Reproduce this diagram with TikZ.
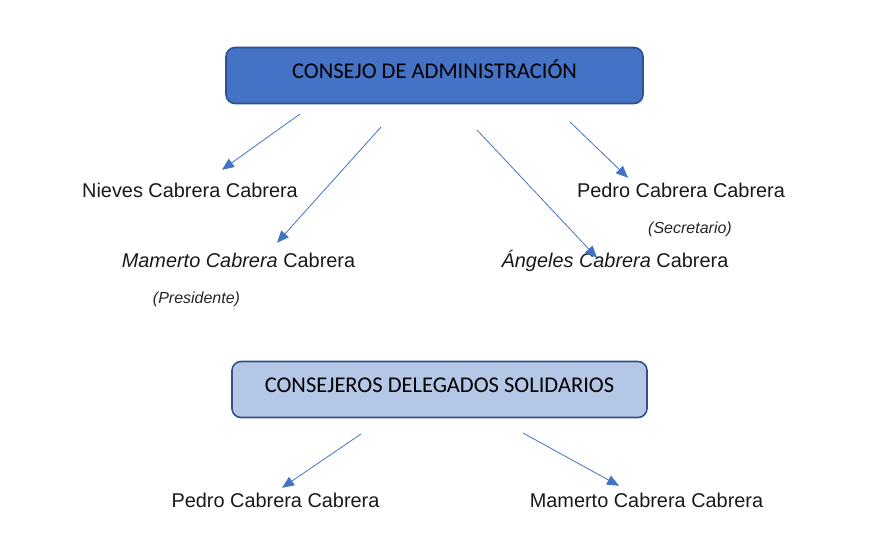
\documentclass[tikz,border=0pt]{standalone}
\usepackage{fontspec}
\setmainfont{Liberation Sans}
\newfontfamily\titlefont{Carlito}
\usetikzlibrary{positioning,arrows.meta}
\definecolor{boxblue}{HTML}{4472C4}
\definecolor{boxline}{HTML}{2F528F}
\definecolor{boxlight}{HTML}{B4C7E7}
\definecolor{linkblue}{HTML}{4472C4}

\begin{document}
\begin{tikzpicture}[x=1pt,y=-1pt,
  board/.style={draw=boxline, line width=1.6pt, rounded corners=9pt, minimum height=56pt, inner sep=0pt, font=\titlefont\fontsize{22.5}{26}\selectfont, text height=12pt, text depth=7pt},
  person/.style={inner sep=0pt, anchor=base, text height=14pt, text depth=4pt, text=black!90, font=\fontsize{19.9}{23}\selectfont},
  role/.style={inner sep=0pt, anchor=base, text=black!85, font=\itshape\fontsize{16}{19}\selectfont},
  link/.style={draw=linkblue, line width=0.8pt, -{Triangle[length=12pt,width=10pt]}}]
\useasboundingbox (0,0) rectangle (876,549);
% boxes
\node[board, fill=boxblue, minimum width=417pt] (consejo) at (434.5,75.5) {CONSEJO DE ADMINISTRACIÓN};%
\node[board, fill=boxlight, minimum width=415pt] (delegados) at (439.5,389.5) {CONSEJEROS DELEGADOS SOLIDARIOS};%
% people
\node[person] (nieves) at (190,197) {Nieves Cabrera Cabrera};%
\node[person] (mamerto) at (238.5,267) {\textit{Mamerto Cabrera} Cabrera};%
\node[role] (presidente) at (196.5,303) {(Presidente)};%
\node[person] (pedro) at (681,197) {Pedro Cabrera Cabrera};%
\node[role] (secretario) at (690,233) {(Secretario)};%
\node[person] (angeles) at (615,267) {\textit{Ángeles Cabrera} Cabrera};%
\node[person] (pedrob) at (275.5,507) {Pedro Cabrera Cabrera};%
\node[person] (mamertob) at (646.5,507) {Mamerto Cabrera Cabrera};%
% arrow tails
\coordinate (t1) at (300,114);
\coordinate (t2) at (381,127);
\coordinate (t3) at (477,130);
\coordinate (t4) at (570,122);
\coordinate (t5) at (361,434);
\coordinate (t6) at (523,433);
% edges
\draw[link] (t1) -- ([xshift=32pt,yshift=13pt]nieves.north);
\draw[link] (t2) -- ([xshift=38.5pt,yshift=10pt]mamerto.north);
\draw[link] (t3) -- ([xshift=-18pt,yshift=-5pt]angeles.north);
\draw[link] (t4) -- ([xshift=-53pt,yshift=5pt]pedro.north);
\draw[link] (t5) -- ([xshift=6.5pt,yshift=5pt]pedrob.north);
\draw[link] (t6) -- ([xshift=-27.5pt,yshift=7pt]mamertob.north);
\end{tikzpicture}
\end{document}
